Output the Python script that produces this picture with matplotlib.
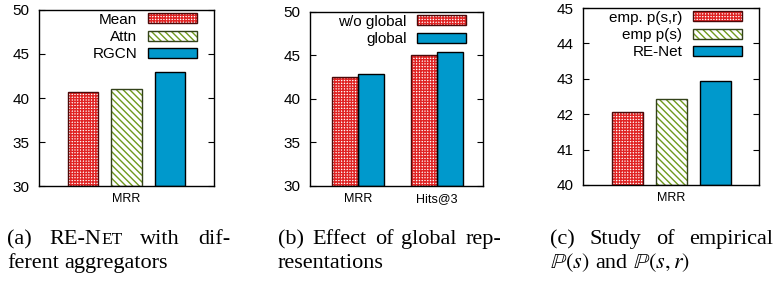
import matplotlib
matplotlib.use("Agg")
import matplotlib.pyplot as plt
from matplotlib.patches import Patch

plt.rcParams['font.family'] = ['Liberation Sans', 'DejaVu Sans']
plt.rcParams['mathtext.fontset'] = 'stix'

# ---------------- data ----------------
a_categories = ["MRR"]
a_series = ["Mean", "Attn", "RGCN"]
a_values = [40.65, 41.06, 42.92]
a_yticks = [30, 35, 40, 45, 50]

b_categories = ["MRR", "Hits@3"]
b_series = ["w/o global", "global"]
b_wo_global = [42.50, 45.10]
b_global = [42.93, 45.45]
b_yticks = [30, 35, 40, 45, 50]

c_categories = ["MRR"]
c_series = ["emp. p(s,r)", "emp p(s)", "RE-Net"]
c_values = [42.06, 42.43, 42.94]
c_yticks = [40, 41, 42, 43, 44, 45]

# ---------------- styles ----------------
RED = '#e02424'
RED_EDGE = '#4a0a0a'
GREEN = '#6f9a1e'
GREEN_EDGE = '#33421a'
BLUE = '#0099cc'
styles = {
    'red': dict(face='white', hatch='++++++', hcolor=RED, edge=RED_EDGE, hlw=1.0),
    'green': dict(face='white', hatch='\\\\\\\\\\', hcolor=GREEN, edge=GREEN_EDGE, hlw=1.0),
    'blue': dict(face=BLUE, hatch=None, hcolor=BLUE, edge='black', hlw=1.0),
}

W, H = 777, 283
fig = plt.figure(figsize=(W / 100, H / 100), dpi=100)


def ax_rect(x0, x1, ytop, ybot):
    return [x0 / W, 1 - ybot / H, (x1 - x0) / W, (ybot - ytop) / H]


def styled_bar(ax, x, h, width, st, bottom):
    with plt.rc_context({'hatch.linewidth': st['hlw']}):
        ax.bar(x, [v - bottom for v in h], width, bottom=bottom, color=st['face'],
               hatch=st['hatch'], edgecolor=st['hcolor'], linewidth=0, zorder=2)
    ax.bar(x, [v - bottom for v in h], width, bottom=bottom, fill=False,
           edgecolor=st['edge'], linewidth=1.0, zorder=3)


def legend_handle(st):
    with plt.rc_context({'hatch.linewidth': st['hlw']}):
        p1 = Patch(facecolor=st['face'], hatch=st['hatch'], edgecolor=st['hcolor'], linewidth=0)
    p2 = Patch(fill=False, edgecolor=st['edge'], linewidth=1.0)
    return (p1, p2)


def style_axes(ax, yticks, ymin, ymax):
    ax.set_ylim(ymin, ymax)
    ax.set_yticks(yticks)
    ax.tick_params(axis='y', direction='in', length=4, right=True, labelsize=11, pad=7)
    ax.tick_params(axis='x', length=0, labelsize=9, pad=5)
    for s in ax.spines.values():
        s.set_linewidth(1.0)


def add_legend(ax, handles, labels, axw):
    ax.legend(handles, labels, loc='upper right',
              bbox_to_anchor=(1 - 17 / axw, 0.985), borderpad=0, borderaxespad=0,
              frameon=False, markerfirst=False, fontsize=11, handlelength=3.2,
              handleheight=0.62, handletextpad=0.7, labelspacing=0.22)


# ---------------- panel (a) ----------------
ax = fig.add_axes(ax_rect(39, 214, 10, 186))
sty = [styles['red'], styles['green'], styles['blue']]
for i, (v, st) in enumerate(zip(a_values, sty)):
    styled_bar(ax, [i - 1], [v], 0.69, st, a_yticks[0])
ax.set_xlim(-2, 2)
ax.set_xticks([0])
ax.set_xticklabels(a_categories)
style_axes(ax, a_yticks, a_yticks[0], a_yticks[-1])
add_legend(ax, [legend_handle(s) for s in sty], a_series, 175)

# ---------------- panel (b) ----------------
ax = fig.add_axes(ax_rect(310, 483, 12, 186))
xs = list(range(len(b_categories)))
bw = 0.33
styled_bar(ax, [x - bw / 2 for x in xs], b_wo_global, bw, styles['red'], b_yticks[0])
styled_bar(ax, [x + bw / 2 for x in xs], b_global, bw, styles['blue'], b_yticks[0])
ax.set_xlim(-0.61, 1.59)
ax.set_xticks(xs)
ax.set_xticklabels(b_categories)
style_axes(ax, b_yticks, b_yticks[0], b_yticks[-1])
add_legend(ax, [legend_handle(styles['red']), legend_handle(styles['blue'])], b_series, 173)

# ---------------- panel (c) ----------------
ax = fig.add_axes(ax_rect(583, 759, 8, 185))
for i, (v, st) in enumerate(zip(c_values, sty)):
    styled_bar(ax, [i - 1], [v], 0.70, st, c_yticks[0])
ax.set_xlim(-2.01, 1.99)
ax.set_xticks([0])
ax.set_xticklabels(c_categories)
style_axes(ax, c_yticks, c_yticks[0], c_yticks[-1])
add_legend(ax, [legend_handle(s) for s in sty], c_series, 176)

# ---------------- captions ----------------
SERIF = ['Liberation Serif', 'DejaVu Serif']
CS = 16
renderer = fig.canvas.get_renderer()


def run_width(txt, size):
    t = fig.text(0, 0, txt, family=SERIF, fontsize=size)
    w = t.get_window_extent(renderer).width
    t.remove()
    return w


def draw_line(words, x0, baseline, x1=None):
    """words: list of words, each a list of (text, size) runs."""
    widths = [[run_width(t, s) for t, s in wd] for wd in words]
    wsum = [sum(w) for w in widths]
    space = run_width("a a", CS) - run_width("aa", CS)
    if x1 is not None and len(words) > 1:
        gap = (x1 - x0 - sum(wsum)) / (len(words) - 1)
    else:
        gap = space
    x = x0
    for wd, ws in zip(words, widths):
        xx = x
        for (t, s), w in zip(wd, ws):
            fig.text(xx / W, 1 - baseline / H, t, family=SERIF, fontsize=s,
                     ha='left', va='baseline')
            xx += w
        x += sum(ws) + gap


def simple(line):
    return [[(w, CS)] for w in line.split(" ")]


B1, B2 = 244, 268
SC = CS * 0.78
draw_line([[("(a)", CS)], [("RE-N", CS), ("ET", SC)], [("with", CS)], [("dif-", CS)]],
          7, B1, 230)
draw_line(simple("ferent aggregators"), 7, B2)

draw_line(simple("(b) Effect of global rep-"), 278, B1, 501)
draw_line(simple("resentations"), 278, B2)

draw_line(simple("(c) Study of empirical"), 550, B1, 773)
draw_line([[(r"$\mathbb{P}(s)$", CS)], [("and", CS)], [(r"$\mathbb{P}(s,r)$", CS)]], 550, B2)

fig.savefig("out.png", dpi=100)
